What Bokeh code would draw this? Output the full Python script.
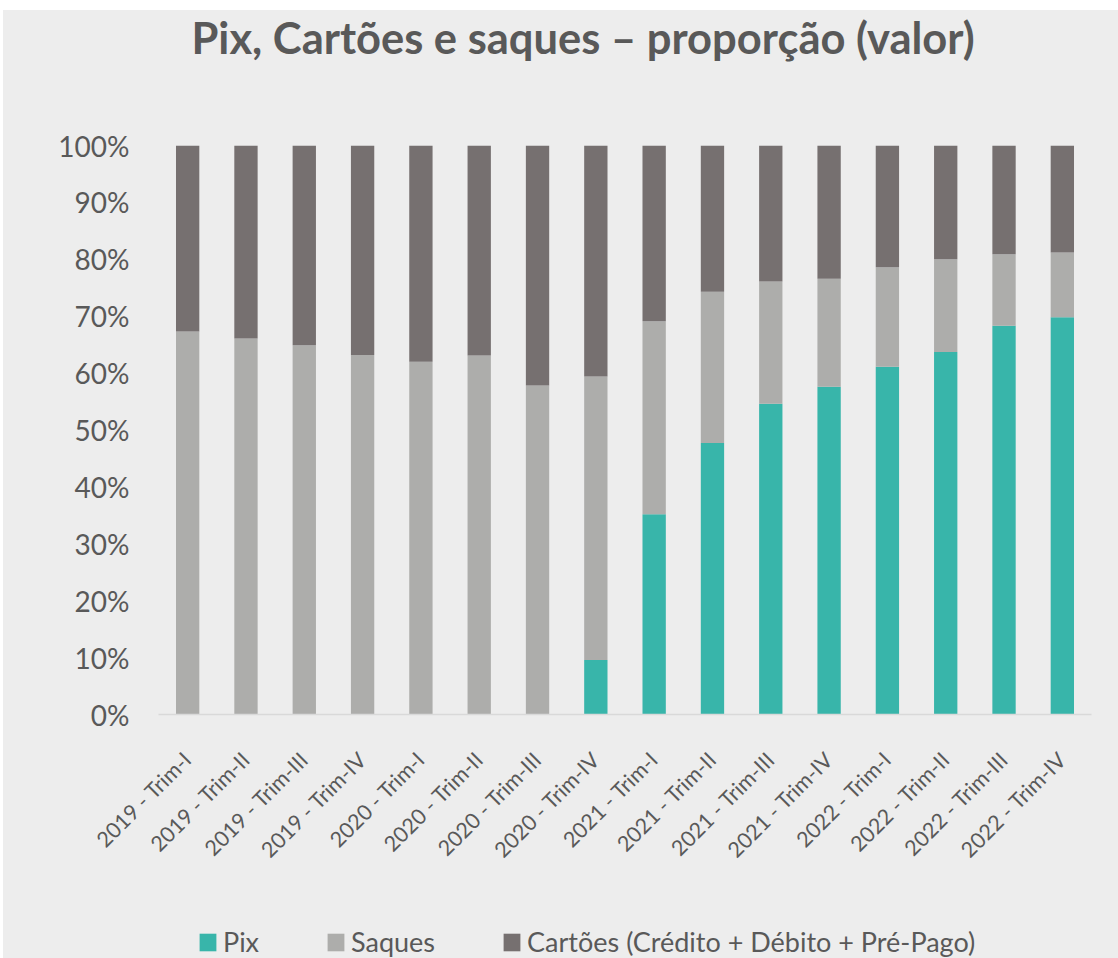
import math
from bokeh.plotting import figure
from bokeh.layouts import column, row
from bokeh.models import (FactorRange, Range1d, NumeralTickFormatter, FixedTicker,
                          Legend, LegendItem, ColumnDataSource, Spacer)
from bokeh.embed import file_html
from bokeh.resources import INLINE

categories = ["2019 - Trim-I", "2019 - Trim-II", "2019 - Trim-III", "2019 - Trim-IV",
              "2020 - Trim-I", "2020 - Trim-II", "2020 - Trim-III", "2020 - Trim-IV",
              "2021 - Trim-I", "2021 - Trim-II", "2021 - Trim-III", "2021 - Trim-IV",
              "2022 - Trim-I", "2022 - Trim-II", "2022 - Trim-III", "2022 - Trim-IV"]
pix = [0, 0, 0, 0, 0, 0, 0, 9.6, 35.2, 47.7, 54.6, 57.6, 61.1, 63.7, 68.3, 69.8]
saques = [67.3, 66.1, 64.9, 63.2, 62.0, 63.1, 57.8, 49.8, 33.9, 26.6, 21.5, 19.0,
          17.5, 16.3, 12.6, 11.4]
cartoes = [round(100 - a - b, 1) for a, b in zip(pix, saques)]
series_names = ["Pix", "Saques", "Cartões (Crédito + Débito + Pré-Pago)"]
stack_cols = ["pix", "saques", "cartoes"]
y_ticks = [0, 0.1, 0.2, 0.3, 0.4, 0.5, 0.6, 0.7, 0.8, 0.9, 1.0]

colors = ["#38b5aa", "#adadab", "#767070"]
BG = "#ededed"
TXT = "#595959"
FONT = "Lato"
W = 1115
LB, RB = 155, 27

src = ColumnDataSource(dict(
    cat=categories,
    pix=[v / 100 for v in pix],
    saques=[v / 100 for v in saques],
    cartoes=[v / 100 for v in cartoes],
))


def strip(height):
    f = figure(width=W, height=height, x_range=FactorRange(*categories),
               y_range=Range1d(2, 3), output_backend="svg", toolbar_location=None,
               min_border_left=LB, min_border_right=RB, min_border_top=0,
               min_border_bottom=0, x_axis_type=None, y_axis_type=None)
    f.background_fill_color = BG
    f.border_fill_color = BG
    f.outline_line_color = None
    f.xgrid.grid_line_color = None
    f.ygrid.grid_line_color = None
    return f


# title strip
pt = strip(60)
pt.title.text = "Pix, Cartões e saques – proporção (valor)"
pt.title.align = "left"
pt.title.vertical_align = "top"
pt.title.offset = 33
pt.title.standoff = 0
pt.title.text_font = FONT
pt.title.text_font_size = "43.5px"
pt.title.text_font_style = "bold"
pt.title.text_color = TXT

# main chart
p = figure(width=W, height=845, x_range=FactorRange(*categories),
           y_range=Range1d(0, 1), output_backend="svg", toolbar_location=None,
           min_border_left=LB, min_border_right=RB, min_border_top=75,
           min_border_bottom=201)
p.background_fill_color = BG
p.border_fill_color = BG
p.outline_line_color = None

p.vbar_stack(stack_cols, x="cat", width=0.40, color=colors, line_color=None, source=src)

p.xgrid.grid_line_color = None
p.ygrid.grid_line_color = None

p.yaxis.ticker = FixedTicker(ticks=y_ticks)
p.yaxis.formatter = NumeralTickFormatter(format="0%")
p.yaxis.axis_line_color = None
p.yaxis.major_tick_line_color = None
p.yaxis.minor_tick_line_color = None
p.yaxis.major_label_text_font = FONT
p.yaxis.major_label_text_font_size = "28px"
p.yaxis.major_label_text_color = TXT
p.yaxis.major_label_standoff = 23

p.xaxis.axis_line_color = "#d9d9d9"
p.xaxis.axis_line_width = 1.5
p.xaxis.major_tick_line_color = None
p.xaxis.minor_tick_line_color = None
p.xaxis.major_label_orientation = math.pi / 4
p.xaxis.major_label_text_font = FONT
p.xaxis.major_label_text_font_size = "21.5px"
p.xaxis.major_label_text_color = TXT
p.xaxis.major_label_standoff = 35

# legend strip (same stacked bars, scrolled out of view, used as legend sources)
pl = strip(43)
rl = pl.vbar_stack(stack_cols, x="cat", width=0.40, color=colors, line_color=None,
                   source=src)
legend = Legend(items=[LegendItem(label=n, renderers=[r]) for n, r in zip(series_names, rl)],
                orientation="horizontal", location=(39, 0),
                background_fill_alpha=0, border_line_color=None,
                label_text_font=FONT, label_text_font_size="27px", label_text_color=TXT,
                glyph_width=21, glyph_height=22, label_standoff=5, spacing=66,
                padding=0, margin=0)
pl.add_layout(legend, "center")

inner = column(pt, p, pl, spacing=0, styles={"background-color": BG})
layout = column(Spacer(height=10), row(Spacer(width=3), inner))
open("out.html", "w").write(file_html(layout, INLINE))
